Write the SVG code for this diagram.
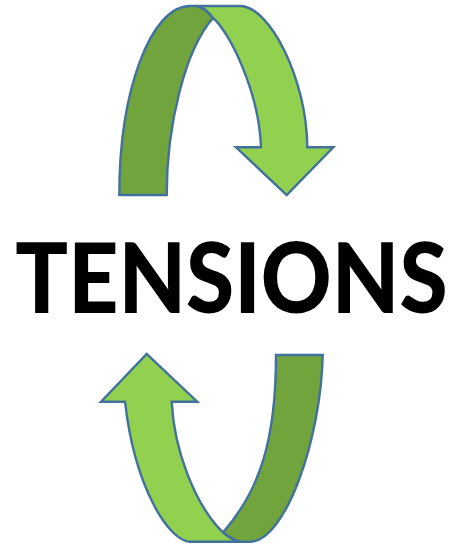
<svg xmlns="http://www.w3.org/2000/svg" width="457" height="547" viewBox="0 0 457 547">
<style>
.light{fill:#92D050;stroke:#41719C;stroke-width:2.4;stroke-linejoin:miter}
.dark{fill:#72A43E;stroke:#41719C;stroke-width:2.4;stroke-linejoin:miter}
.title{font-family:"Lato","Liberation Sans",sans-serif;font-weight:900;font-size:87.5px;fill:#000}
</style>
<rect width="457" height="547" fill="#fff"/>
<g id="top-arrow">
<path class="dark" d="M119.3,195 C119.3,90.7 150.8,6 190,6 L197,6 Q206,8 213,18 C185,50 166.7,125 166.7,195 Z"/>
<path class="light" d="M197,6 L240,6 C270,6 307,80 307.3,147.3 L333.3,147.3 L286.7,195 L236,147.3 L261,147.3 C259,90 228,30 213,18 Q206,8 197,6 Z"/>
</g>
<g id="bottom-arrow">
<path class="dark" d="M276,355 L322.7,355 C321,440 285,541.7 250,541.7 L240,541.7 Q232,540 223,532.5 C260,490 276,440 276,355 Z"/>
<path class="light" d="M125,401.7 L101,401.7 L146.7,354 L197.3,401.7 L171.7,401.7 C174,450 195,505 223,532.5 Q232,540 240,541.7 L190,541.7 C170,541.7 135,490 125,401.7 Z"/>
</g>
<g id="label">
<text class="title" transform="translate(231.5,312.7) scale(1,1.1)" x="0" y="0" text-anchor="middle">TENSIONS</text>
</g>
</svg>
